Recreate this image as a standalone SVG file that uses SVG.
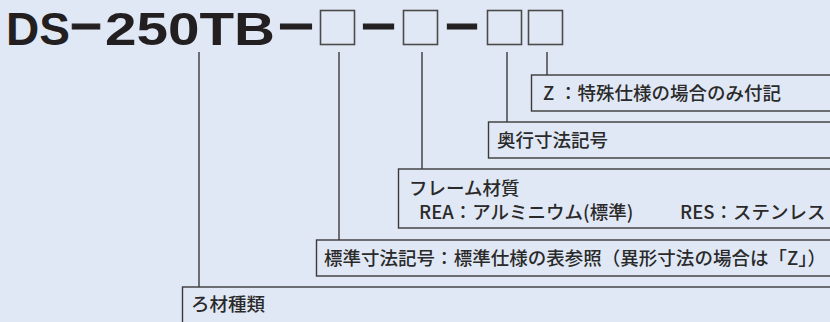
<svg xmlns="http://www.w3.org/2000/svg" width="830" height="322" viewBox="0 0 830 322">
<style>
.title{font-family:"Liberation Sans",Arial,sans-serif;font-weight:bold;font-size:46px;fill:#231f20}
.dash{stroke:#231f20;stroke-width:0.9}
.sq{fill:none;stroke:#4a4a4a;stroke-width:1.6}
.box{fill:none;stroke:#3a3a3a;stroke-width:1.4}
.lbl{font-family:"Noto Sans CJK JP","Noto Sans",sans-serif;font-weight:500;font-size:18.5px;fill:#2a2a2a}
.ln{stroke:#3a3a3a;stroke-width:1.4;fill:none}
</style>
<rect width="830" height="322" fill="#e1e8f5"/>
<g id="title">
<text class="title" x="6" y="45">DS</text>
<text class="title dash" x="70" y="41.5" textLength="32" lengthAdjust="spacingAndGlyphs">−</text>
<text class="title" x="105" y="45" textLength="170" lengthAdjust="spacingAndGlyphs">250TB</text>
<text class="title dash" x="278" y="41.5" textLength="36" lengthAdjust="spacingAndGlyphs">−</text>
<rect class="sq" x="320.5" y="10.5" width="34" height="34"/>
<text class="title dash" x="361" y="41.5" textLength="35" lengthAdjust="spacingAndGlyphs">−</text>
<rect class="sq" x="403.5" y="10.5" width="34" height="34"/>
<text class="title dash" x="445" y="41.5" textLength="34" lengthAdjust="spacingAndGlyphs">−</text>
<rect class="sq" x="487.5" y="10.5" width="34" height="34"/>
<rect class="sq" x="528.5" y="10.5" width="34" height="34"/>
</g>
<g id="connectors">
<line class="ln" x1="199" y1="52" x2="199" y2="287"/>
<line class="ln" x1="339" y1="52" x2="339" y2="240"/>
<line class="ln" x1="422" y1="52" x2="422" y2="169"/>
<line class="ln" x1="507" y1="52" x2="507" y2="122"/>
<line class="ln" x1="547" y1="52" x2="547" y2="75"/>
</g>
<g id="node-z">
<rect class="box" x="531.5" y="75" width="320" height="36"/>
<text class="lbl" x="543" y="100">Z<tspan x="559">：特殊仕様の場合のみ付記</tspan></text>
</g>
<g id="node-depth">
<rect class="box" x="488.5" y="122" width="360" height="36"/>
<text class="lbl" x="497" y="147">奥行寸法記号</text>
</g>
<g id="node-frame">
<rect class="box" x="398.5" y="169" width="450" height="59"/>
<text class="lbl" x="409" y="195">フレーム材質</text>
<text class="lbl" x="419" y="219">REA：アルミニウム(標準)<tspan x="680">RES：ステンレス</tspan></text>
</g>
<g id="node-std">
<rect class="box" x="316.5" y="240" width="530" height="36"/>
<text class="lbl" x="324" y="265" textLength="502" lengthAdjust="spacing">標準寸法記号：標準仕様の表参照（異形寸法の場合は「Z」）</text>
</g>
<g id="node-material">
<rect class="box" x="182.5" y="287" width="660" height="40"/>
<text class="lbl" x="191" y="311">ろ材種類</text>
</g>
</svg>
